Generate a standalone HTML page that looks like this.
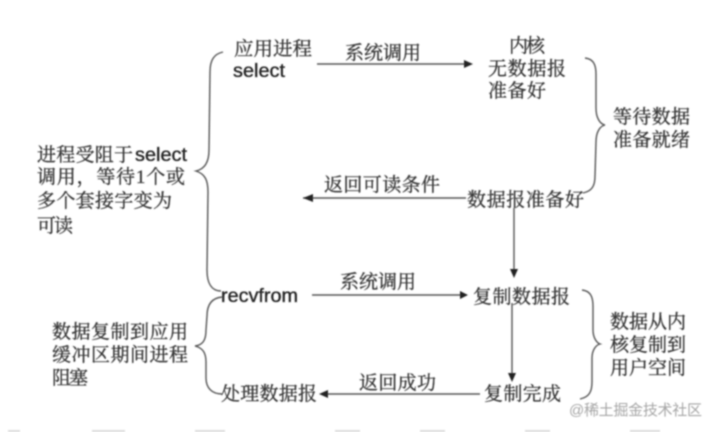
<!DOCTYPE html>
<html><head><meta charset="utf-8"><style>
html,body{margin:0;padding:0;background:#fff;width:717px;height:432px;overflow:hidden}
svg{display:block}
text{font-family:"Liberation Serif","Noto Serif CJK SC",serif;font-size:19px;fill:#333;stroke:#333;stroke-width:.3px}
.l{font-family:"Liberation Sans","Noto Sans CJK SC",sans-serif;fill:#222;stroke:#222;stroke-width:.35px}
</style></head><body>
<svg width="717" height="432" viewBox="0 0 717 432" xmlns="http://www.w3.org/2000/svg">
<rect width="717" height="432" fill="#fff"/>
<g filter="url(#b)">
<filter id="b" x="-5%" y="-5%" width="110%" height="110%"><feGaussianBlur stdDeviation="0.7"/></filter>
<g fill="none" stroke="#555" stroke-width="1.4">
<path d="M223 52C214 54 210 60 210 72L209 150C209 162 205 169 196 171C205 174 208 180 208 192L207 270C207 284 212 291 221 291"/>
<path d="M222 297C212 298 207 304 207 316L206 330C206 340 203 345 195 346C203 348 206 353 206 362L206 378C206 388 212 394 222 394"/>
<path d="M585 58C593 59 596 64 596 74L596 108C596 118 600 124 605 125C600 126 596 132 596 142L595 176C595 186 592 191 583 193"/>
<path d="M582 290C590 291 593 296 593 306L593 330C593 338 597 343 600 344C596 345 592 350 592 358L592 382C592 392 589 397 580 399"/>
<path d="M317 64H466M303 198H466M312 295H462M326 394H480M514 208V270M512 303V373"/>
</g>
<g fill="#222">
<path d="M473 64L464 60V68Z"/><path d="M303 198L313 194V202Z"/><path d="M468 295L460 291V299Z"/><path d="M319 394L328 390V398Z"/>
<path d="M514 278L510 269H518Z"/><path d="M512 382L508 373H516Z"/>
</g>
<text x="234" y="55" textLength="78" lengthAdjust="spacingAndGlyphs">应用进程</text>
<text class="l" x="233" y="77" textLength="52" lengthAdjust="spacingAndGlyphs">select</text>
<text x="345" y="59" textLength="76">系统调用</text>
<text x="509" y="52" textLength="36">内核</text>
<text x="488" y="75" textLength="78">无数据报</text>
<text x="488" y="97" textLength="58">准备好</text>
<text x="613" y="123" textLength="77">等待数据</text>
<text x="613" y="146" textLength="77">准备就绪</text>
<text x="324" y="191" textLength="116">返回可读条件</text>
<text x="467" y="206" textLength="117">数据报准备好</text>
<text class="l" x="221" y="302" textLength="77" lengthAdjust="spacingAndGlyphs">recvfrom</text>
<text x="340" y="288" textLength="76">系统调用</text>
<text x="473" y="303" textLength="97">复制数据报</text>
<text x="610" y="328" textLength="76">数据从内</text>
<text x="610" y="351" textLength="76">核复制到</text>
<text x="610" y="374" textLength="76">用户空间</text>
<text x="359" y="389" textLength="77">返回成功</text>
<text x="484" y="400" textLength="77">复制完成</text>
<text x="221" y="400" textLength="96">处理数据报</text>
<text x="37" y="161" textLength="96">进程受阻于</text>
<text class="l" x="135" y="161" textLength="52" lengthAdjust="spacingAndGlyphs">select</text>
<text x="37" y="183" textLength="148">调用，等待1个或</text>
<text x="37" y="207" textLength="135">多个套接字变为</text>
<text x="37" y="232" textLength="36">可读</text>
<text x="52" y="338" textLength="136">数据复制到应用</text>
<text x="52" y="361" textLength="136">缓冲区期间进程</text>
<text x="52" y="384" textLength="36">阻塞</text>
<text x="569" y="415" style="font-family:'Liberation Sans','Noto Sans CJK SC',sans-serif;font-size:15px;fill:#a5a5a5;stroke:none" textLength="133">@稀土掘金技术社区</text>
<path d="M8 431H20M92 431H125M195 431H225M335 431H360M420 431H445M525 431H550M630 431H660" stroke="#ddd" stroke-width="2" fill="none"/>
</g>
</svg>
</body></html>
